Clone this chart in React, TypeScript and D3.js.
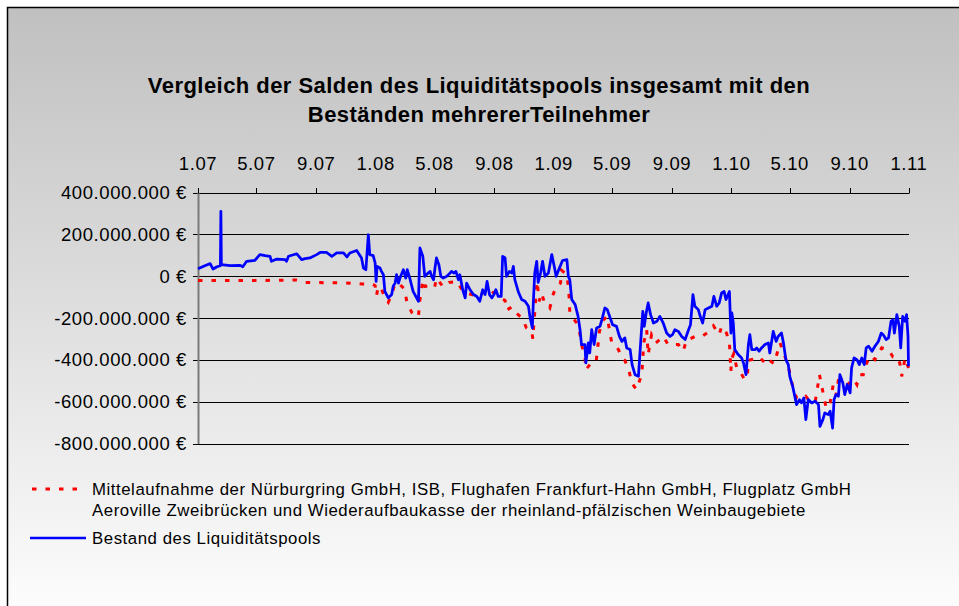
import React from "react";
import * as d3 from "d3";

// Bestand des Liquiditätspools (Mio. €)
const BLUE_DATES = [
  "2007-01-01","2007-01-15","2007-01-26","2007-02-01","2007-02-09","2007-02-16","2007-02-17","2007-02-18",
  "2007-03-08","2007-03-28","2007-04-03","2007-04-11","2007-04-28","2007-05-08","2007-05-19","2007-05-29",
  "2007-06-01","2007-06-12","2007-06-29","2007-07-02","2007-07-06","2007-07-23","2007-08-02","2007-08-09",
  "2007-08-19","2007-09-02","2007-09-09","2007-09-22","2007-10-03","2007-10-13","2007-10-27","2007-11-03",
  "2007-11-09","2007-11-23","2007-12-03","2007-12-07","2007-12-12","2007-12-17","2007-12-20","2007-12-27",
  "2007-12-31","2008-01-02","2008-01-04","2008-01-10","2008-01-13","2008-01-17","2008-01-20","2008-01-27",
  "2008-02-03","2008-02-06","2008-02-10","2008-02-13","2008-02-17","2008-02-20","2008-02-27","2008-03-03",
  "2008-03-06","2008-03-12","2008-03-18","2008-03-29","2008-04-01","2008-04-07","2008-04-11","2008-04-18",
  "2008-04-22","2008-04-25","2008-04-29","2008-05-02","2008-05-05","2008-05-10","2008-05-14","2008-05-19",
  "2008-05-26","2008-06-02","2008-06-05","2008-06-10","2008-06-14","2008-06-19","2008-06-22","2008-06-28",
  "2008-07-03","2008-07-06","2008-07-13","2008-07-20","2008-07-27","2008-08-02","2008-08-08","2008-08-13",
  "2008-08-17","2008-08-22","2008-08-27","2008-08-31","2008-09-04","2008-09-09","2008-09-15","2008-09-18",
  "2008-09-23","2008-09-26","2008-10-02","2008-10-07","2008-10-10","2008-10-13","2008-10-20","2008-10-27",
  "2008-11-03","2008-11-10","2008-11-13","2008-11-18","2008-11-20","2008-11-23","2008-11-27","2008-11-30",
  "2008-12-05","2008-12-09","2008-12-14","2008-12-21","2008-12-28","2009-01-02","2009-01-06","2009-01-10",
  "2009-01-19","2009-01-28","2009-01-31","2009-02-03","2009-02-07","2009-02-14","2009-02-20","2009-02-24",
  "2009-02-27","2009-03-06","2009-03-08","2009-03-13","2009-03-16","2009-03-20","2009-03-25","2009-03-30",
  "2009-04-06","2009-04-10","2009-04-16","2009-04-21","2009-04-27","2009-05-02","2009-05-10","2009-05-16",
  "2009-05-21","2009-05-27","2009-05-31","2009-06-07","2009-06-11","2009-06-17","2009-06-24","2009-06-29",
  "2009-07-03","2009-07-06","2009-07-10","2009-07-14","2009-07-19","2009-07-25","2009-08-01","2009-08-07",
  "2009-08-14","2009-08-21","2009-08-28","2009-09-02","2009-09-07","2009-09-14","2009-09-21","2009-09-28",
  "2009-10-05","2009-10-09","2009-10-14","2009-10-18","2009-10-25","2009-10-29","2009-11-03","2009-11-08",
  "2009-11-15","2009-11-22","2009-11-26","2009-12-02","2009-12-07","2009-12-12","2009-12-17","2009-12-21",
  "2009-12-28","2009-12-31","2010-01-02","2010-01-05","2010-01-08","2010-01-15","2010-01-22","2010-01-26",
  "2010-01-31","2010-02-05","2010-02-08","2010-02-12","2010-02-19","2010-02-22","2010-02-27","2010-03-04",
  "2010-03-11","2010-03-18","2010-03-21","2010-03-28","2010-04-03","2010-04-07","2010-04-14","2010-04-18",
  "2010-04-23","2010-04-28","2010-05-01","2010-05-07","2010-05-12","2010-05-15","2010-05-21","2010-05-25",
  "2010-05-30","2010-06-03","2010-06-08","2010-06-15","2010-06-22","2010-06-29","2010-07-02","2010-07-08",
  "2010-07-12","2010-07-19","2010-07-23","2010-07-28","2010-07-31","2010-08-04","2010-08-09","2010-08-12",
  "2010-08-18","2010-08-22","2010-08-27","2010-09-02","2010-09-05","2010-09-10","2010-09-16","2010-09-21",
  "2010-09-26","2010-10-01","2010-10-05","2010-10-10","2010-10-17","2010-10-23","2010-10-30","2010-11-05",
  "2010-11-09","2010-11-15","2010-11-20","2010-11-25","2010-11-29","2010-12-02","2010-12-07","2010-12-12",
  "2010-12-15","2010-12-19","2010-12-24","2010-12-27","2010-12-30","2010-12-31",
];
const BLUE_VALUES = [
  35, 50, 60, 34, 45, 50, 310, 55,
  50, 52, 45, 71, 76, 103, 98, 95,
  71, 82, 79, 71, 95, 107, 79, 84,
  87, 103, 114, 114, 95, 111, 111, 92,
  111, 123, 87, 39, 31, 198, 103, 98,
  63, -25, 47, 39, 23, 7, -73, -104,
  -88, -49, -33, 7, -33, -9, 31, -9,
  31, -17, -73, -120, 135, 95, -1, 15,
  23, -1, -17, 39, 87, 55, -1, -9,
  -1, 15, 23, 15, 23, -17, 7, -65,
  -104, -33, -65, -88, -97, -120, -65, -88,
  -25, -88, -104, -88, -65, -97, -97, 95,
  87, -1, 23, 15, 47, -17, -73, -112,
  -120, -144, -192, -248, -128, 15, 71, -30,
  15, 71, -1, 15, 103, 47, -1, 23,
  75, 79, -1, -17, -112, -136, -192, -256,
  -327, -327, -415, -319, -367, -256, -327, -248,
  -240, -208, -152, -160, -200, -232, -240, -288,
  -312, -295, -343, -351, -423, -471, -479, -303,
  -168, -240, -176, -128, -184, -224, -216, -192,
  -224, -272, -288, -280, -256, -264, -288, -303,
  -256, -232, -88, -144, -160, -192, -224, -160,
  -152, -144, -97, -144, -128, -80, -73, -112,
  -73, -272, -176, -224, -351, -375, -391, -415,
  -471, -327, -280, -351, -351, -343, -359, -343,
  -327, -319, -367, -264, -312, -288, -272, -319,
  -399, -423, -479, -527, -582, -614, -590, -606,
  -582, -686, -590, -606, -598, -614, -718, -686,
  -654, -662, -646, -726, -590, -566, -574, -471,
  -510, -566, -518, -558, -439, -391, -399, -423,
  -391, -423, -343, -335, -359, -335, -312, -272,
  -280, -303, -295, -216, -208, -272, -184, -240,
  -343, -192, -216, -184, -288, -431,
];

// Mittelaufnahme der Teilnehmer (Mio. €)
const RED_DATES = [
  "2007-01-01","2007-06-18","2007-07-21","2007-08-09","2007-10-30","2007-12-04","2007-12-25","2007-12-31",
  "2008-01-03","2008-01-06","2008-01-13","2008-01-20","2008-01-27","2008-02-03","2008-02-10","2008-02-20",
  "2008-02-29","2008-03-05","2008-03-15","2008-03-29","2008-03-31","2008-04-07","2008-04-11","2008-04-20",
  "2008-05-01","2008-05-05","2008-05-19","2008-05-31","2008-06-17","2008-06-28","2008-07-16","2008-08-02",
  "2008-08-13","2008-08-22","2008-09-09","2008-09-23","2008-09-26","2008-10-07","2008-10-13","2008-10-29",
  "2008-11-06","2008-11-17","2008-11-19","2008-11-26","2008-11-28","2008-12-02","2008-12-07","2008-12-12",
  "2008-12-24","2008-12-30","2009-01-06","2009-01-15","2009-01-17","2009-01-28","2009-01-31","2009-02-02",
  "2009-02-03","2009-02-16","2009-02-23","2009-02-27","2009-03-06","2009-03-08","2009-03-18","2009-03-29",
  "2009-04-05","2009-04-12","2009-04-21","2009-04-25","2009-04-30","2009-05-14","2009-05-21","2009-05-27",
  "2009-06-05","2009-06-10","2009-06-20","2009-06-26","2009-07-01","2009-07-05","2009-07-11","2009-07-14",
  "2009-07-21","2009-07-30","2009-08-14","2009-08-24","2009-09-02","2009-09-14","2009-09-24","2009-10-01",
  "2009-10-08","2009-10-18","2009-11-01","2009-11-13","2009-11-25","2009-12-07","2009-12-12","2009-12-22",
  "2009-12-28","2009-12-31","2010-01-01","2010-01-06","2010-01-12","2010-01-19","2010-01-28","2010-02-03",
  "2010-02-05","2010-02-17","2010-02-27","2010-03-11","2010-03-15","2010-03-23","2010-03-30","2010-04-11",
  "2010-04-19","2010-04-28","2010-05-07","2010-05-15","2010-05-25","2010-06-03","2010-06-11","2010-06-22",
  "2010-06-27","2010-07-01","2010-07-14","2010-07-21","2010-07-29","2010-08-04","2010-08-11","2010-08-19",
  "2010-08-30","2010-09-09","2010-09-16","2010-09-21","2010-09-29","2010-10-06","2010-10-14","2010-10-23",
  "2010-11-06","2010-11-21","2010-11-29","2010-12-06","2010-12-13","2010-12-17","2010-12-24","2010-12-31",
];
const RED_VALUES = [
  -21, -20, -18, -30, -32, -37, -37, -45,
  -93, -49, -61, -104, -125, -88, -33, -40,
  -61, -120, -173, -195, -131, -17, -49, -45,
  -56, -9, -52, -30, -25, -73, -88, -97,
  -65, -65, -97, -116, -163, -147, -168, -205,
  -248, -264, -300, -73, -25, -120, -80, -120,
  -152, -93, -49, -33, 28, 7, -52, -112,
  -176, -221, -264, -327, -383, -447, -418, -412,
  -264, -211, -192, -252, -316, -351, -391, -402,
  -455, -510, -542, -503, -466, -319, -256, -375,
  -280, -319, -288, -327, -327, -327, -359, -303,
  -300, -288, -288, -270, -237, -280, -240, -272,
  -319, -455, -399, -370, -439, -455, -495, -471,
  -402, -396, -386, -415, -396, -407, -418, -319,
  -370, -431, -527, -582, -590, -574, -598, -603,
  -534, -471, -622, -630, -523, -571, -466, -527,
  -514, -491, -518, -471, -471, -415, -380, -399,
  -343, -354, -386, -383, -415, -479, -391, -439,
];

const Y_TICKS = [400, 200, 0, -200, -400, -600, -800]; // Mio. €
const X_TICK_LABELS = ["1.07","5.07","9.07","1.08","5.08","9.08","1.09","5.09","9.09","1.10","5.10","9.10","1.11"];

const TITLE_LINES = [
  "Vergleich der Salden des Liquiditätspools insgesamt mit den",
  "Beständen mehrererTeilnehmer",
];
const LEGEND_RED = [
  "Mittelaufnahme der Nürburgring GmbH, ISB, Flughafen Frankfurt-Hahn GmbH, Flugplatz GmbH",
  "Aeroville Zweibrücken und Wiederaufbaukasse der rheinland-pfälzischen Weinbaugebiete",
];
const LEGEND_BLUE = "Bestand des Liquiditätspools";

const FONT = "'Liberation Sans', Arial, sans-serif";

export default function App() {
  const W = 959, H = 606;
  const parse = d3.timeParse("%Y-%m-%d");
  const x = d3.scaleTime()
    .domain([new Date(2007, 0, 1), new Date(2011, 0, 1)])
    .range([198, 909]);
  const y = d3.scaleLinear().domain([-800, 400]).range([443.5, 192.5]);

  const locale = d3.formatLocale({ decimal: ",", thousands: ".", grouping: [3], currency: ["", " €"], minus: "-" });
  const fmt = locale.format(",");
  const yLabel = (v: number) => fmt(v * 1e6) + " €";

  const xTicks = d3.timeMonth.every(4)!.range(new Date(2007, 0, 1), new Date(2011, 0, 2));

  const blue = BLUE_DATES.map((d, i) => ({ d: parse(d)!, v: BLUE_VALUES[i] }));
  const red = RED_DATES.map((d, i) => ({ d: parse(d)!, v: RED_VALUES[i] }));
  const line = d3.line<{ d: Date; v: number }>().x(p => x(p.d)).y(p => y(p.v));

  const [x0, x1] = x.range();
  const yTop = y(400);

  return (
    <svg width={W} height={H} style={{ position: "absolute", left: 0, top: 0 }} fontFamily={FONT}>
      <defs>
        <linearGradient id="bg" x1="0" y1="0" x2="0" y2="1">
          <stop offset="0" stopColor="#c0c0c0" />
          <stop offset="1" stopColor="#ffffff" />
        </linearGradient>
      </defs>
      <rect x={0} y={0} width={W} height={H} fill="#ffffff" />
      <rect x={7.5} y={7.5} width={W + 20} height={H + 20} fill="url(#bg)" stroke="#000" strokeWidth={1.5} />

      {TITLE_LINES.map((t, i) => (
        <text key={i} x={479} y={92.5 + i * 29} textAnchor="middle" fontWeight="bold" fontSize={22} letterSpacing={0.45} fill="#000">{t}</text>
      ))}

      {/* gridlines */}
      {Y_TICKS.map(v => (
        <g key={v}>
          <line x1={x0 - 5} x2={x1} y1={Math.round(y(v)) + 0.5} y2={Math.round(y(v)) + 0.5} stroke="#000" strokeWidth={1} />
          <text x={187} y={y(v)} dy="0.36em" textAnchor="end" fontSize={18.5} letterSpacing={0.6} fill="#000">{yLabel(v)}</text>
        </g>
      ))}
      {/* y axis */}
      <line x1={x0 + 0.5} x2={x0 + 0.5} y1={yTop} y2={y(-800) + 0.5} stroke="#7a7a7a" strokeWidth={2} />
      {/* x axis ticks (top) */}
      {xTicks.map((t, i) => (
        <g key={i}>
          <line x1={Math.round(x(t)) + 0.5} x2={Math.round(x(t)) + 0.5} y1={Math.round(yTop) + 0.5} y2={Math.round(yTop) - 5} stroke="#000" strokeWidth={1} />
          <text x={x(t)} y={169.5} textAnchor="middle" fontSize={18.5} letterSpacing={0.6} fill="#000">{X_TICK_LABELS[i]}</text>
        </g>
      ))}

      {/* series */}
      <path d={line(red)!} fill="none" stroke="#ff0000" strokeWidth={3} strokeDasharray="4.5 9" />
      <path d={line(blue)!} fill="none" stroke="#0000ff" strokeWidth={2.75} strokeLinejoin="round" />

      {/* legend */}
      <line x1={32} x2={80} y1={489} y2={489} stroke="#ff0000" strokeWidth={3} strokeDasharray="4.5 9" />
      {LEGEND_RED.map((t, i) => (
        <text key={i} x={92} y={495 + i * 21} fontSize={16.8} letterSpacing={0.55} fill="#000">{t}</text>
      ))}
      <line x1={30} x2={86} y1={538} y2={538} stroke="#0000ff" strokeWidth={2.5} />
      <text x={92} y={543.5} fontSize={16.8} letterSpacing={0.55} fill="#000">{LEGEND_BLUE}</text>
    </svg>
  );
}
